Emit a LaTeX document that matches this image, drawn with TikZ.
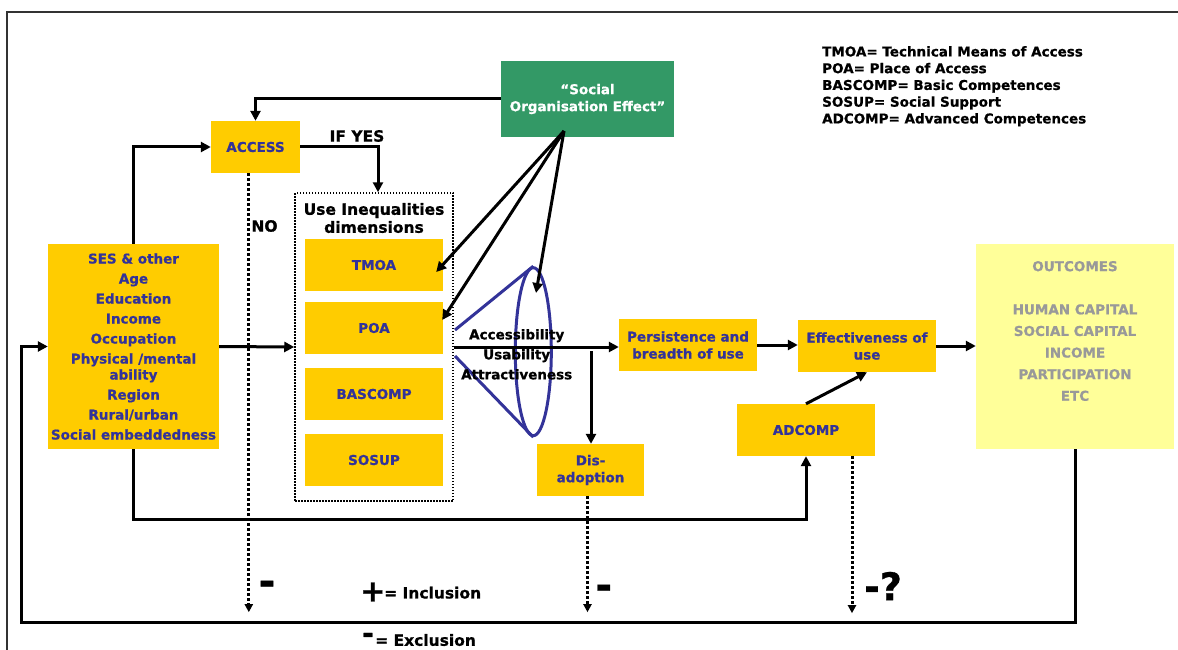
\documentclass[tikz,border=0pt]{standalone}
\usepackage{fontspec}
\setmainfont{DejaVu Sans}[BoldFeatures={FakeBold=0.8}]
\usetikzlibrary{arrows.meta,calc,shapes.geometric}
\definecolor{ygold}{HTML}{FFCC00}
\definecolor{tblue}{HTML}{333399}
\definecolor{sgreen}{HTML}{339966}
\definecolor{oyellow}{HTML}{FFFF99}
\definecolor{ogray}{HTML}{999999}
\definecolor{framegray}{HTML}{333333}
\begin{document}
\begin{tikzpicture}[x=1pt,y=-1pt,
  box/.style={fill=ygold,text=tblue,font=\bfseries\fontsize{13.5}{17}\selectfont,align=center,inner sep=0pt,minimum width=138pt,minimum height=52pt},
  blk/.style={text=black,font=\bfseries\fontsize{13.5}{17}\selectfont,align=center,inner sep=0pt},
  big/.style={text=black,font=\bfseries\fontsize{15.5}{18}\selectfont,align=center,inner sep=0pt},
  arr/.style={line width=3pt,-{Triangle[length=10pt,width=10pt]}},
  darr/.style={line width=3pt,dash pattern=on 3pt off 2pt,-{Triangle[length=8pt,width=8pt]}},
  conestyle/.style={draw=tblue,line width=3pt}]
\useasboundingbox (0,0) rectangle (1178,650);
% frame
\draw[line width=1.8pt,framegray] (1178,12) -- (7,12) -- (7,650);

% nodes
\node[box,minimum width=171pt,minimum height=205pt,font=\bfseries\fontsize{13.5}{20}\selectfont] (ses) at (133.5,346.5)
  {SES \& other\\Age\\Education\\Income\\Occupation\\Physical /mental\\[-4pt]ability\\Region\\Rural/urban\\Social embeddedness};
\node[box,minimum width=89pt] (access) at (255.5,147) {ACCESS};
\node[fill=sgreen,text=white,font=\bfseries\fontsize{13.5}{17}\selectfont,align=center,inner sep=0pt,minimum width=173pt,minimum height=76pt] (soe) at (587.5,99) {``Social\\Organisation Effect''};
\node[draw,line width=1.5pt,dash pattern=on 1.5pt off 1.5pt,minimum width=158pt,minimum height=308pt,inner sep=0pt] (ubox) at (374,347) {};
\node[big] (utitle) at (374,218) {Use Inequalities\\dimensions};
\node[box] (tmoa) at (374,265) {TMOA};
\node[box] (poa) at (374,328) {POA};
\node[box] (bascomp) at (374,394) {BASCOMP};
\node[box] (sosup) at (374,460) {SOSUP};
\node[box] (persist) at (688,345) {Persistence and\\breadth of use};
\node[box] (effect) at (867,346) {Effectiveness of\\use};
\node[box] (adcomp) at (806,430) {ADCOMP};
\node[box,minimum width=107pt] (disad) at (590.5,470) {Dis-\\adoption};
\node[fill=oyellow,inner sep=0pt,minimum width=198pt,minimum height=205pt] (outcomes) at (1075,346.5) {};
\node[text=ogray,font=\bfseries\fontsize{13.5}{21.6}\selectfont,align=center,inner sep=0pt] (outtext) at (1075,331)
  {OUTCOMES\\[21.6pt]HUMAN CAPITAL\\SOCIAL CAPITAL\\INCOME\\PARTICIPATION\\ETC};
\node[blk,align=left,anchor=west,font=\bfseries\fontsize{13.5}{16.75}\selectfont] (legend) at (822,86.2)
  {TMOA= Technical Means of Access\\POA= Place of Access\\BASCOMP= Basic Competences\\SOSUP= Social Support\\ADCOMP= Advanced Competences};

% cone
\node[ellipse,conestyle,minimum width=36pt,minimum height=168pt,inner sep=0pt] (ell) at (533.3,351.7) {};
\coordinate (ctop) at (455,330);
\coordinate (cbot) at (455,356);
\draw[conestyle] (ctop) -- (ell.north);
\draw[conestyle] (cbot) -- (ell.south);

% connectors
\draw[arr] (soe.west) -| (access.north);
\draw[arr] (ses.north) |- (access.west);
\draw[arr] (access.east) -| ($(ubox.north)+(4,0)$);
\node[big] (ifyes) at (357,136) {IF YES};
\coordinate (noend) at ($(access.south)+(-6.7,439)$);
\draw[darr] ([xshift=-6.7pt]access.south) -- (noend);
\node[big] (nolbl) at (264.5,226) {NO};
\draw[arr] (ses.east) -- (ubox.west);
\draw[arr] (ubox.east) -- (ubox.east -| persist.west);
\coordinate (br) at (591,351);
\draw[arr] (br) -- (br |- disad.north);
\draw[arr] (persist.east) -- (persist.east -| effect.west);
\draw[arr] (effect.east) -- (effect.east -| outcomes.west);
\draw[arr] (adcomp.north) -- (effect.south);
\draw[arr] (ses.south) -- ++(0,70) -| (adcomp.south);
\coordinate (loopc) at (21,622);
\draw[arr] (outcomes.south) |- (loopc) |- (ses.west);
\coordinate (disend) at ($(disad.south)+(-3,116)$);
\draw[darr] ([xshift=-3pt]disad.south) -- (disend);
\coordinate (adend) at ($(adcomp.south)+(46,157)$);
\draw[darr] ([xshift=46pt]adcomp.south) -- (adend);

% social organisation effect arrows
\coordinate (soeo) at (564,131);
\coordinate (elltip) at (536,293);
\draw[arr] (soeo) -- ([xshift=-7pt,yshift=-7pt]tmoa.east);
\draw[arr] (soeo) -- ([xshift=-1pt,yshift=8pt]poa.east);
\draw[arr] (soeo) -- (elltip);

% cone labels
\node[blk,font=\bfseries\fontsize{13.5}{20}\selectfont] (aua) at (516.7,354.3) {Accessibility\\Usability\\Attractiveness};

% signs
\node[text=black,font=\bfseries\fontsize{40}{40}\selectfont,inner sep=0pt] (m1) at (267,588) {-};
\node[text=black,font=\bfseries\fontsize{40}{40}\selectfont,inner sep=0pt] (m2) at (603.7,592) {-};
\node[text=black,font=\bfseries\fontsize{38}{38}\selectfont,inner sep=0pt] (m3) at (883,586) {-?};
\node[text=black,font=\bfseries\fontsize{30}{30}\selectfont,inner sep=0pt] (plus) at (372.8,592) {+};
\node[big,anchor=west] (incl) at (384,592.7) {= Inclusion};
\node[text=black,font=\bfseries\fontsize{28}{28}\selectfont,inner sep=0pt,anchor=base] (minus) at (368,643) {-};
\node[big,anchor=west] (excl) at (375,640) {= Exclusion};
\end{tikzpicture}
\end{document}
